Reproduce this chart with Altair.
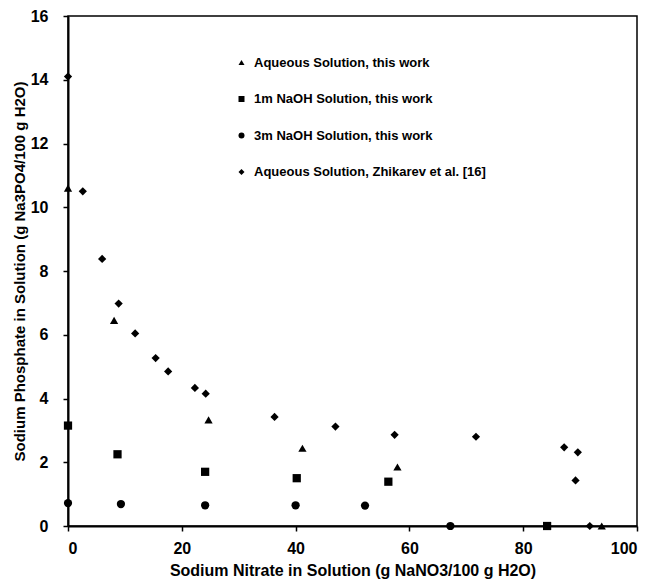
import altair as alt
import pandas as pd

series_names = [
    "Aqueous Solution, this work",
    "1m NaOH Solution, this work",
    "3m NaOH Solution, this work",
    "Aqueous Solution, Zhikarev et al. [16]",
]
series_shapes = ["triangle-up", "square", "circle", "diamond"]

# Aqueous solution, this work
aq_x = [0, 8.1, 24.7, 41.2, 57.9, 93.8]
aq_y = [10.6, 6.45, 3.33, 2.44, 1.85, 0]
# 1m NaOH solution, this work
naoh1_x = [0, 8.7, 24.1, 40.2, 56.3, 84.2]
naoh1_y = [3.15, 2.25, 1.70, 1.50, 1.39, 0]
# 3m NaOH solution, this work
naoh3_x = [0, 9.3, 24.1, 40.0, 52.2, 67.2]
naoh3_y = [0.72, 0.69, 0.65, 0.65, 0.64, 0]
# Aqueous solution, Zhikarev et al.
zh_x = [0, 2.6, 6.0, 8.9, 11.8, 15.4, 17.6, 22.3, 24.2, 36.3, 47.0, 57.4, 71.7, 87.2, 89.6, 89.2, 91.7]
zh_y = [14.1, 10.5, 8.38, 6.98, 6.04, 5.27, 4.85, 4.33, 4.15, 3.42, 3.12, 2.86, 2.80, 2.47, 2.31, 1.43, 0]

x_ticks = [0, 20, 40, 60, 80, 100]
y_ticks = [0, 2, 4, 6, 8, 10, 12, 14, 16]

rows = []
for name, xs, ys in zip(series_names,
                        [aq_x, naoh1_x, naoh3_x, zh_x],
                        [aq_y, naoh1_y, naoh3_y, zh_y]):
    for a, b in zip(xs, ys):
        rows.append({"nitrate": a, "phosphate": b, "series": name})
df = pd.DataFrame(rows)

FONT = "Liberation Sans"

chart = alt.Chart(df).mark_point(
    filled=True, opacity=1, color="black", size=68, clip=False
).encode(
    x=alt.X("nitrate:Q",
            scale=alt.Scale(domain=[0, 100], nice=False),
            axis=alt.Axis(values=x_ticks, title="Sodium Nitrate in Solution (g NaNO3/100 g H2O)",
                          grid=False, titlePadding=6.5, labelPadding=9, titleFontSize=16)),
    y=alt.Y("phosphate:Q",
            scale=alt.Scale(domain=[0, 16], nice=False),
            axis=alt.Axis(values=y_ticks, title="Sodium Phosphate in Solution (g Na3PO4/100 g H2O)",
                          grid=False, titlePadding=3, labelPadding=15, titleFontSize=15)),
    shape=alt.Shape("series:N",
                    scale=alt.Scale(domain=series_names, range=series_shapes),
                    legend=alt.Legend(title=None, orient="none", legendX=167, legendY=40,
                                      symbolSize=36, symbolFillColor="black",
                                      symbolStrokeWidth=0, labelFont=FONT,
                                      labelFontWeight="bold", labelFontSize=13,
                                      labelColor="black", rowPadding=22.5,
                                      labelOffset=6, padding=0, labelLimit=400)),
).properties(
    width=569,
    height=510,
    autosize=alt.AutoSizeParams(type="none"),
    padding={"left": 60, "top": 8, "right": 11, "bottom": 54},
).configure_view(
    stroke="black", strokeWidth=1.5
).configure_axis(
    domainColor="black", domainWidth=2, tickColor="black", tickWidth=1.5,
    tickSize=5, labelFont=FONT, labelFontWeight="bold", labelFontSize=16,
    labelColor="black", titleFont=FONT, titleFontWeight="bold",
    titleColor="black",
)

chart.save("out.html", embed_options={"renderer": "svg", "actions": False})
